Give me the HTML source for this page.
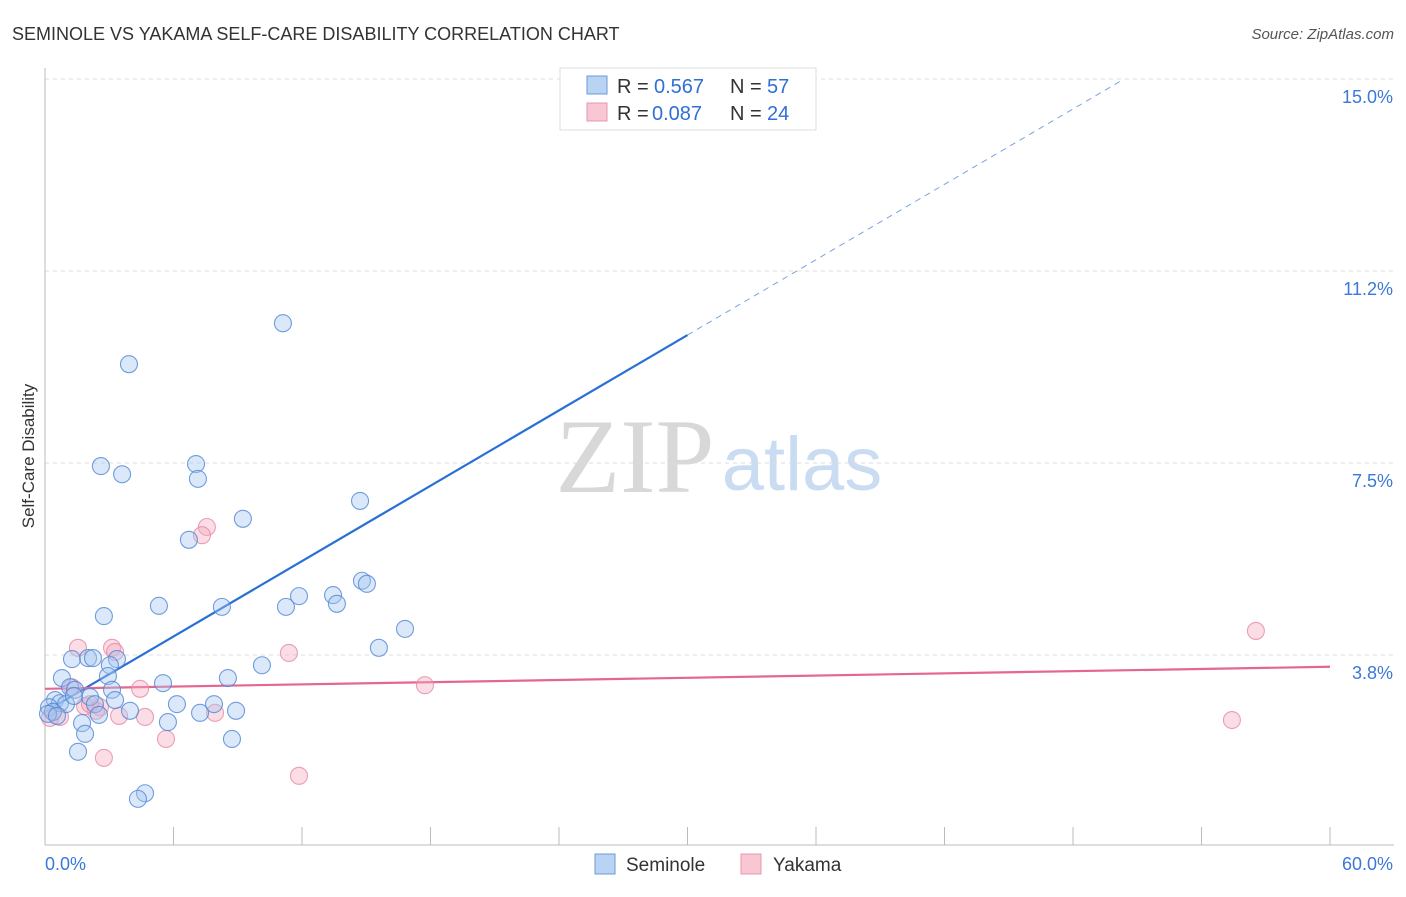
<!DOCTYPE html>
<html><head><meta charset="utf-8"><style>
body{margin:0;background:#fff;font-family:"Liberation Sans",sans-serif}
</style></head><body>
<svg width="1406" height="892" viewBox="0 0 1406 892" xmlns="http://www.w3.org/2000/svg">
<text x="12" y="40" font-size="18" fill="#333">SEMINOLE VS YAKAMA SELF-CARE DISABILITY CORRELATION CHART</text>
<text x="1394" y="39" font-size="15" fill="#555" font-style="italic" text-anchor="end">Source: ZipAtlas.com</text>
<text x="635" y="492" font-size="106" fill="#d8d8d8" font-family="Liberation Serif,serif" text-anchor="middle">ZIP</text>
<text x="802" y="490" font-size="76" fill="#c9dcf2" text-anchor="middle">atlas</text>
<g id="grid"></g><g id="axes"></g><g id="lines"></g><g id="pts"></g>
<text transform="translate(34,456) rotate(-90)" font-size="17" fill="#333" text-anchor="middle">Self-Care Disability</text>
<g>
<rect x="560" y="68" width="256" height="62" fill="#fff" stroke="#ddd"/>
<rect x="587" y="76" width="20" height="18" fill="#b9d3f3" stroke="#6b9ad8"/>
<text x="617" y="93" font-size="20" fill="#333">R = </text>
<text x="654" y="93" font-size="20" fill="#2f6fd6">0.567</text>
<text x="730" y="93" font-size="20" fill="#333">N = </text>
<text x="767" y="93" font-size="20" fill="#2f6fd6">57</text>
<rect x="587" y="103" width="20" height="18" fill="#f9c6d4" stroke="#e897ae"/>
<text x="617" y="120" font-size="20" fill="#333">R = </text>
<text x="652" y="120" font-size="20" fill="#2f6fd6">0.087</text>
<text x="730" y="120" font-size="20" fill="#333">N = </text>
<text x="767" y="120" font-size="20" fill="#2f6fd6">24</text>
</g>
<g>
<rect x="595" y="854" width="20" height="20" fill="#b9d3f3" stroke="#6b9ad8"/>
<text x="626" y="871" font-size="19" fill="#333">Seminole</text>
<rect x="741" y="854" width="20" height="20" fill="#f9c6d4" stroke="#e897ae"/>
<text x="773" y="871" font-size="19" fill="#333">Yakama</text>
</g>
</svg>
<script>
const yTicks=[3.75,7.5,11.25,15];
const yTickLabels=["3.8%","7.5%","11.2%","15.0%"];
const xTicks=[0,6,12,18,24,30,36,42,48,54,60];
const xLabels=["0.0%","60.0%"];
const blueX=[3.92,11.11,2.61,3.60,7.05,7.14,6.72,9.24,14.71,14.80,15.03,5.32,2.75,8.26,11.25,11.86,13.45,13.63,16.81,15.59,1.26,2.01,2.24,3.36,3.03,10.13,2.94,0.79,5.51,8.54,1.17,1.40,3.13,2.10,3.27,6.16,7.89,0.47,0.70,0.98,2.33,0.19,0.37,3.97,7.24,8.92,2.52,1.73,5.74,1.87,8.73,1.54,4.67,4.34,0.14,0.56,1.35];
const blueY=[9.43,10.23,7.44,7.28,7.48,7.19,6.00,6.41,6.76,5.20,5.14,4.71,4.51,4.69,4.69,4.90,4.92,4.75,4.26,3.89,3.67,3.69,3.69,3.67,3.55,3.55,3.34,3.30,3.20,3.30,3.12,3.07,3.07,2.93,2.87,2.79,2.79,2.87,2.81,2.79,2.79,2.73,2.64,2.66,2.62,2.66,2.58,2.42,2.44,2.21,2.11,1.86,1.05,0.94,2.60,2.56,2.95];
const pinkX=[1.54,3.13,3.27,7.56,7.33,11.39,56.54,4.44,17.74,2.57,2.38,0.70,3.46,4.67,7.94,1.87,5.65,2.75,11.86,55.42,0.23,1.26,0.37,2.10];
const pinkY=[3.89,3.89,3.81,6.25,6.09,3.79,4.22,3.09,3.16,2.73,2.66,2.54,2.56,2.54,2.62,2.75,2.11,1.74,1.39,2.48,2.52,3.12,2.64,2.79];
const blueFit=[2.64,0.2453];
const pinkFit=[3.09,0.00717];
const sx=v=>45+v/60*1285, sy=v=>847-v/3.75*192;
const NS="http://www.w3.org/2000/svg";
function mk(p,t,a){const e=document.createElementNS(NS,t);for(const k in a)e.setAttribute(k,a[k]);document.getElementById(p).appendChild(e);return e;}
yTicks.forEach((v,i)=>{
 const l=mk('grid','line',{x1:45,x2:1394,y1:sy(v),y2:sy(v),stroke:'#ddd','stroke-dasharray':'4,4'});
 
 
 const t=mk('grid','text',{x:1393,y:sy(v)+24,'font-size':18,fill:'#3b78d8','text-anchor':'end'});t.textContent=yTickLabels[i];
 
 
});
mk('axes','line',{x1:45,x2:45,y1:68,y2:845,stroke:'#bbb'});
mk('axes','line',{x1:45,x2:1394,y1:845,y2:845,stroke:'#bbb'});
xTicks.forEach(v=>{const l=mk('axes','line',{x1:sx(v),x2:sx(v),y1:827,y2:845,stroke:'#bbb'});
 
 });
let t=mk('axes','text',{x:45,y:870,'font-size':18,fill:'#3b78d8'});t.textContent=xLabels[0];


t=mk('axes','text',{x:1393,y:870,'font-size':18,fill:'#3b78d8','text-anchor':'end'});t.textContent=xLabels[1];


function pts(X,Y,f,s,n){X.forEach((x,i)=>{const c=mk('pts','circle',{cx:sx(x),cy:sy(Y[i]),r:8.5,fill:f,'fill-opacity':0.4,stroke:s,'stroke-opacity':0.8,'stroke-width':1.1});
 
 });}
pts(pinkX,pinkY,'#f5a9bf','#e58aa5','yakama-point');
pts(blueX,blueY,'#a6c6f0','#4f86d6','seminole-point');
const bx=30;
let l=mk('lines','line',{x1:sx(0),y1:sy(blueFit[0]),x2:sx(bx),y2:sy(blueFit[0]+blueFit[1]*bx),stroke:'#2a6fd6','stroke-width':2.2});


const xe=(15.0-blueFit[0])/blueFit[1];
l=mk('lines','line',{x1:sx(bx),y1:sy(blueFit[0]+blueFit[1]*bx),x2:sx(xe),y2:sy(15.0),stroke:'#7aa3e0','stroke-width':1,'stroke-dasharray':'6,5'});


l=mk('lines','line',{x1:sx(0),y1:sy(pinkFit[0]),x2:sx(60),y2:sy(pinkFit[0]+pinkFit[1]*60),stroke:'#e5668f','stroke-width':2.2});


</script>
</body></html>
